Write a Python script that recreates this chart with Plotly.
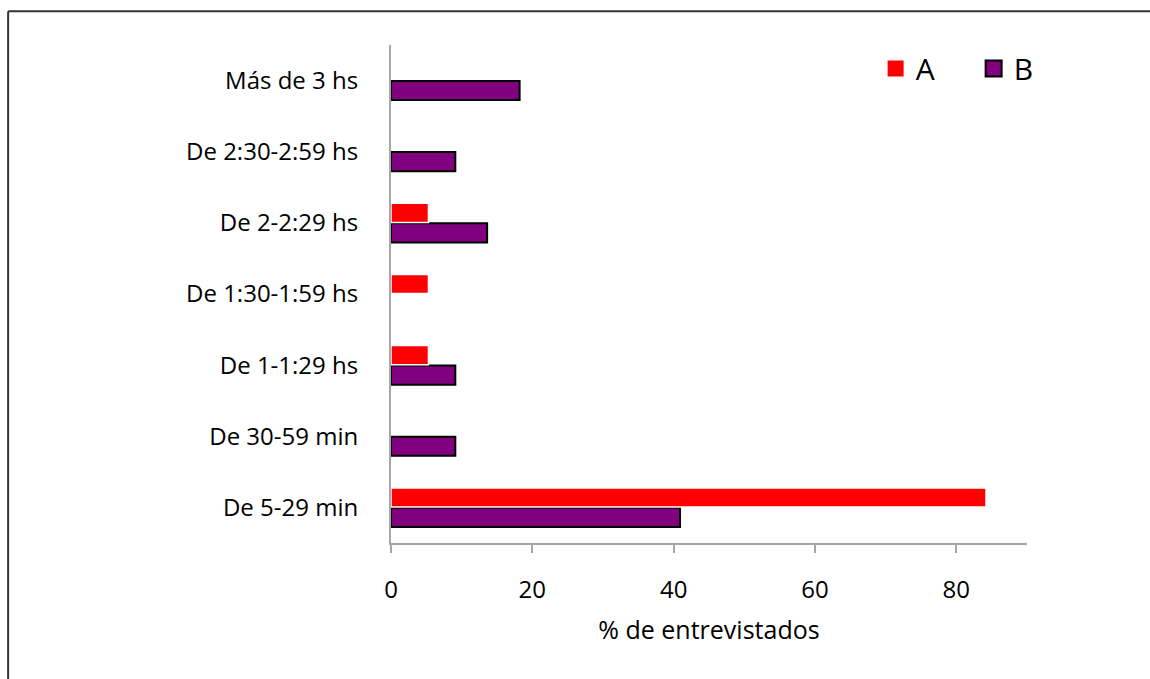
import plotly.graph_objects as go

# Travel-time categories, listed bottom to top
categories = [
    "De 5-29 min",
    "De 30-59 min",
    "De 1-1:29 hs",
    "De 1:30-1:59 hs",
    "De 2-2:29 hs",
    "De 2:30-2:59 hs",
    "Más de 3 hs",
]
# Percentage of respondents per group
group_a = [84.2, None, 5.3, 5.3, 5.3, None, None]
group_b = [40.9, 9.1, 9.1, None, 13.6, 9.1, 18.2]
x_ticks = [0, 20, 40, 60, 80]

FONT = "Open Sans"
RED = "#ff0000"
PURPLE = "#800080"

fig = go.Figure()

# B drawn first so it sits below A inside each group
fig.add_trace(go.Bar(
    y=categories, x=group_b, orientation="h", name="B",
    marker=dict(color=PURPLE, line=dict(color="#000000", width=2)),
    showlegend=False,
))
fig.add_trace(go.Bar(
    y=categories, x=group_a, orientation="h", name="A",
    marker=dict(color=RED, line=dict(color="#ffffff", width=1.5)),
    showlegend=False,
))

# Legend entries with larger square swatches
fig.add_trace(go.Scatter(
    x=[None], y=[None], mode="markers", name="A",
    marker=dict(symbol="square", size=18, color=RED,
                line=dict(color=RED, width=0)),
))
fig.add_trace(go.Scatter(
    x=[None], y=[None], mode="markers", name="B",
    marker=dict(symbol="square", size=18, color=PURPLE,
                line=dict(color="#000000", width=2)),
))

fig.update_layout(
    width=1150, height=679,
    margin=dict(l=391, r=123, t=45, b=136, autoexpand=False),
    paper_bgcolor="white", plot_bgcolor="white",
    barmode="group", bargap=0.44, bargroupgap=0.04,
    font=dict(family=FONT, size=24, color="#000000"),
    legend=dict(
        orientation="h", x=0.762, y=1.005, xanchor="left", yanchor="top",
        font=dict(family=FONT, size=30), entrywidth=53,
        bgcolor="rgba(0,0,0,0)", itemwidth=30,
    ),
    xaxis=dict(
        range=[0, 90], tickvals=x_ticks, showgrid=False, zeroline=False,
        showline=True, linecolor="#a6a6a6", linewidth=2,
        ticks="outside", ticklen=8, tickwidth=1.5, tickcolor="#a6a6a6",
        ticklabelstandoff=16, automargin=False,
        title=dict(text="% de entrevistados", standoff=18,
                   font=dict(family=FONT, size=25)),
        tickfont=dict(family=FONT, size=24),
    ),
    yaxis=dict(
        categoryorder="array", categoryarray=categories,
        showgrid=False, zeroline=False, automargin=False,
        showline=True, linecolor="#a6a6a6", linewidth=2,
        ticks="", ticklabelstandoff=26,
        tickfont=dict(family=FONT, size=24),
    ),
    shapes=[
        # outer frame around the chart
        dict(type="line", xref="paper", yref="paper",
             x0=-0.602, x1=1.3, y0=1.068, y1=1.068,
             line=dict(color="#333333", width=2)),
        dict(type="line", xref="paper", yref="paper",
             x0=-0.602, x1=-0.602, y0=1.068, y1=-0.4,
             line=dict(color="#333333", width=2)),
    ],
)

fig.write_html("out.html")
